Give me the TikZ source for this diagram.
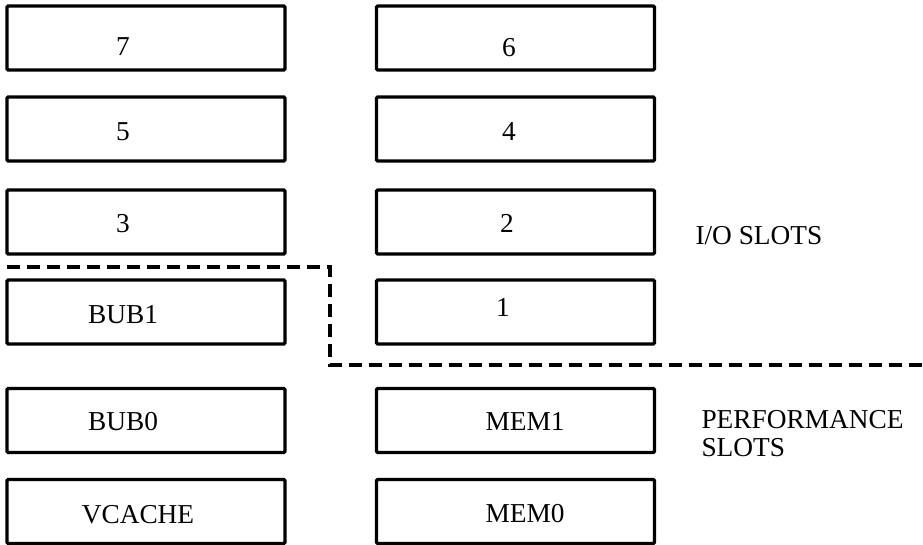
\documentclass[tikz,border=0pt]{standalone}
\usepackage{fontspec}
\setmainfont{Liberation Serif}
\tikzset{every picture/.style={line width=0.75pt}}
\tikzset{
  slotbox/.style={draw, line width=2.5pt, rounded corners=1pt, minimum width=208.5pt, minimum height=48pt, inner sep=0pt},
  slottext/.style={anchor=base, inner sep=0pt, font=\fontsize{20.5}{21}\selectfont},
  sepline/.style={line width=2.5pt, dash pattern=on 9.5pt off 5.5pt, line join=miter}
}

\begin{document}
\begin{tikzpicture}[x=0.75pt,y=0.75pt,yscale=-1,xscale=1]
\useasboundingbox (0,0) rectangle (923,544);

%Shape: Rectangle
\node[slotbox] (box7) at (146,38) {};
\node[slotbox] (box6) at (515.5,38) {};
%Shape: Rectangle
\node[slotbox] (box5) at (146,129) {};
\node[slotbox] (box4) at (515.5,129) {};
%Shape: Rectangle
\node[slotbox] (box3) at (146,222) {};
\node[slotbox] (box2) at (515.5,222) {};
%Shape: Rectangle
\node[slotbox] (bub1) at (146,312) {};
\node[slotbox] (box1) at (515.5,312) {};
%Shape: Rectangle
\node[slotbox] (bub0) at (146,420.5) {};
\node[slotbox] (mem1) at (515.5,420.5) {};
%Shape: Rectangle
\node[slotbox] (vcache) at (146,511.5) {};
\node[slotbox] (mem0) at (515.5,511.5) {};

%Straight Lines
\draw[sepline] (7,267) -- (330,267) -- (330,365) -- (923,365);

% Text Node
\node[slottext] (t7) at (123,55) {7};
\node[slottext] (t6) at (509,56) {6};
% Text Node
\node[slottext] (t5) at (123,140) {5};
\node[slottext] (t4) at (509,140) {4};
% Text Node
\node[slottext] (t3) at (123,232) {3};
\node[slottext] (t2) at (507,232) {2};
% Text Node
\node[slottext] (tbub1) at (123,323) {BUB1};
\node[slottext] (t1) at (503,316) {1};
% Text Node
\node[slottext] (tbub0) at (123,430) {BUB0};
\node[slottext] (tmem1) at (525,430) {MEM1};
% Text Node
\node[slottext] (tvcache) at (138,523) {VCACHE};
\node[slottext] (tmem0) at (525,522) {MEM0};
% Text Node
\node[slottext, anchor=base west] (io) at (695,244) {I/O SLOTS};
\node[slottext, anchor=base west, align=left] (perf) at (701,456) {PERFORMANCE\\SLOTS};

\end{tikzpicture}
\end{document}
